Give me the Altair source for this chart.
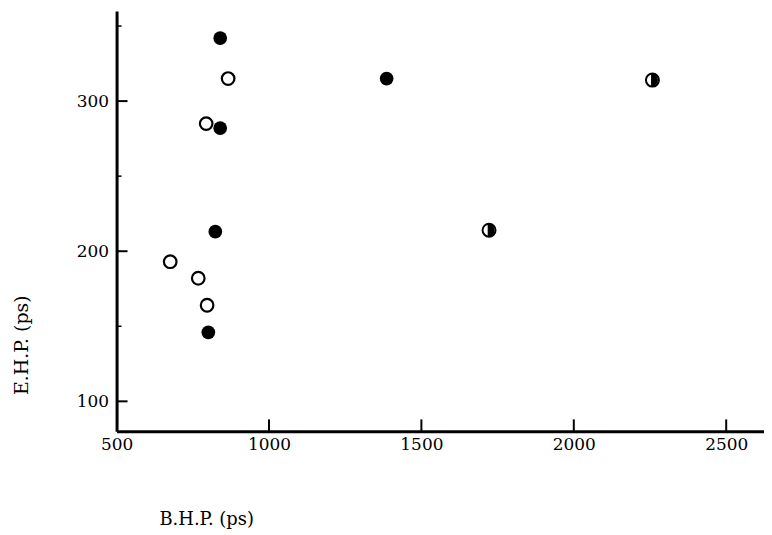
import altair as alt
import pandas as pd

# data
filled_bhp = [840, 840, 824, 801, 1386]
filled_ehp = [342, 282, 213, 146, 315]
open_bhp = [866, 794, 676, 768, 797]
open_ehp = [315, 285, 193, 182, 164]
half_bhp = [1722, 2258]
half_ehp = [214, 314]

x_labels = [500, 1000, 1500, 2000, 2500]
x_major = [1000, 1500, 2000, 2500]
y_major = [100, 200, 300]
y_minor = [150, 250, 350]

FONT = "DejaVu Serif"

filled = pd.DataFrame({"bhp": filled_bhp, "ehp": filled_ehp})
opened = pd.DataFrame({"bhp": open_bhp, "ehp": open_ehp})
half = pd.DataFrame({"bhp": half_bhp, "ehp": half_ehp})
xt = pd.DataFrame({"bhp": x_major})
ytm = pd.DataFrame({"ehp": y_major})
ytn = pd.DataFrame({"ehp": y_minor})

xscale = alt.Scale(domain=[500, 2624], nice=False, zero=False)
yscale = alt.Scale(domain=[80, 360], nice=False, zero=False)

xaxis = alt.Axis(
    values=x_labels, format="d", tickSize=0, grid=False, labelPadding=5,
    labelFont=FONT, labelFontSize=17, labelColor="black",
    domainColor="black", domainWidth=3,
    title="B.H.P. (ps)", titleFont=FONT, titleFontSize=18, titleFontWeight="normal",
    titleColor="black", titleX=90, titleY=89, titleAlign="center", titleBaseline="middle",
    labelFlush=False,
)
yaxis = alt.Axis(
    values=y_major, format="d", tickSize=0, grid=False, labelPadding=8,
    labelFont=FONT, labelFontSize=17, labelColor="black",
    domainColor="black", domainWidth=3,
    title="E.H.P. (ps)", titleFont=FONT, titleFontSize=19, titleFontWeight="normal",
    titleColor="black", titleX=-95, titleY=335, titleAlign="center", titleBaseline="middle",
    labelFlush=False,
)

X = alt.X("bhp:Q", scale=xscale, axis=xaxis)
Y = alt.Y("ehp:Q", scale=yscale, axis=yaxis)

pts_filled = alt.Chart(filled).mark_point(
    shape="circle", filled=True, color="black", size=190, opacity=1
).encode(x=X, y=Y)

pts_open = alt.Chart(opened).mark_point(
    shape="circle", filled=False, color="black", size=160, strokeWidth=2.2, opacity=1
).encode(x=X, y=Y)

pts_half_ring = alt.Chart(half).mark_point(
    shape="circle", filled=False, color="black", size=170, strokeWidth=2, opacity=1
).encode(x=X, y=Y)

pts_half_fill = alt.Chart(half).mark_point(
    shape="M-0.2,-1A1,1,0,0,1,-0.2,1Z", filled=True, color="black", size=190, opacity=1
).encode(x=X, y=Y)

xticks = alt.Chart(xt).mark_rule(color="black", strokeWidth=2).encode(
    x=X,
    y=alt.value(422),
    y2=alt.value(410),
)

yticks_major = alt.Chart(ytm).mark_rule(color="black", strokeWidth=2).encode(
    y=Y,
    x=alt.value(0),
    x2=alt.value(11),
)

yticks_minor = alt.Chart(ytn).mark_rule(color="black", strokeWidth=1.5).encode(
    y=Y,
    x=alt.value(0),
    x2=alt.value(5),
)

chart = alt.layer(
    pts_filled, pts_open, pts_half_ring, pts_half_fill, xticks, yticks_major, yticks_minor
).properties(
    width=650,
    height=422,
    autosize=alt.AutoSizeParams(type="none"),
    padding={"left": 109, "top": 2, "right": 0, "bottom": 100},
).configure(background="white").configure_view(stroke=None)

chart.save("out.html", embed_options={"renderer": "svg", "actions": False})
